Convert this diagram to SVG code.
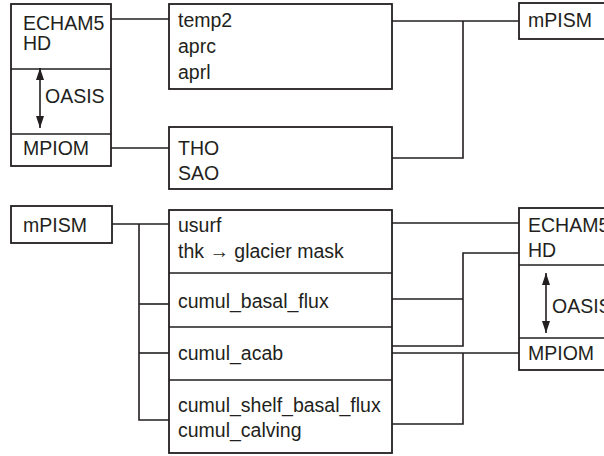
<svg xmlns="http://www.w3.org/2000/svg" width="604" height="456" viewBox="0 0 604 456">
<style>
.box{fill:#fff;stroke:#231f20;stroke-width:1.8}
.ln{fill:none;stroke:#231f20;stroke-width:1.6}
.t{font-family:"Liberation Sans",Arial,sans-serif;font-size:19.5px;fill:#231f20}
</style>
<defs>
<marker id="ah" viewBox="0 0 12 8" refX="12" refY="4" markerWidth="12" markerHeight="8" orient="auto-start-reverse" markerUnits="userSpaceOnUse">
<path d="M0,0 L12,4 L0,8 z" fill="#231f20"/>
</marker>
</defs>
<rect width="604" height="456" fill="#fff"/>
<g id="connectors">
<path class="ln" d="M111,19 H169"/>
<path class="ln" d="M111,148 H169"/>
<path class="ln" d="M392,21 H519"/>
<path class="ln" d="M392,158 H463 V21"/>
<path class="ln" d="M112,224 H169"/>
<path class="ln" d="M139,224 V420 H169"/>
<path class="ln" d="M139,304 H169"/>
<path class="ln" d="M139,353 H169"/>
<path class="ln" d="M392,223 H519"/>
<path class="ln" d="M519,253 H463 V346 H392"/>
<path class="ln" d="M392,299 H463"/>
<path class="ln" d="M519,353 H392"/>
<path class="ln" d="M463,353 V424 H392"/>
</g>
<g id="coupled-top">
<rect class="box" x="11" y="4" width="100" height="162"/>
<path class="ln" d="M11,69 H111 M11,134 H111" stroke-width="1.8"/>
<text class="t" x="23" y="30">ECHAM5</text>
<text class="t" x="23" y="50">HD</text>
<path class="ln" d="M40,68 V128" marker-start="url(#ah)" marker-end="url(#ah)"/>
<text class="t" x="45" y="103">OASIS</text>
<text class="t" x="23" y="155">MPIOM</text>
</g>
<g id="atm-vars">
<rect class="box" x="169" y="4" width="223" height="85"/>
<text class="t" x="178" y="27">temp2</text>
<text class="t" x="178" y="53">aprc</text>
<text class="t" x="178" y="79">aprl</text>
</g>
<g id="ocean-vars">
<rect class="box" x="169" y="127" width="223" height="62"/>
<text class="t" x="178" y="155">THO</text>
<text class="t" x="178" y="180">SAO</text>
</g>
<g id="mpism-top">
<rect class="box" x="519" y="3" width="95" height="36"/>
<text class="t" x="528" y="27">mPISM</text>
</g>
<g id="mpism-bottom">
<rect class="box" x="11" y="206" width="101" height="37"/>
<text class="t" x="23" y="232">mPISM</text>
</g>
<g id="ism-vars">
<rect class="box" x="169" y="210" width="223" height="243"/>
<path class="ln" d="M169,273 H392 M169,327 H392 M169,380 H392" stroke-width="1.8"/>
<text class="t" x="178" y="232">usurf</text>
<text class="t" x="178" y="258">thk → glacier mask</text>
<text class="t" x="178" y="308">cumul_basal_flux</text>
<text class="t" x="178" y="360">cumul_acab</text>
<text class="t" x="178" y="412">cumul_shelf_basal_flux</text>
<text class="t" x="178" y="437">cumul_calving</text>
</g>
<g id="coupled-bottom">
<rect class="box" x="519" y="208" width="95" height="162"/>
<path class="ln" d="M519,265 H604 M519,338 H604" stroke-width="1.8"/>
<text class="t" x="528" y="232">ECHAM5</text>
<text class="t" x="528" y="257">HD</text>
<path class="ln" d="M546,273 V333" marker-start="url(#ah)" marker-end="url(#ah)"/>
<text class="t" x="552" y="313">OASIS</text>
<text class="t" x="528" y="360">MPIOM</text>
</g>
</svg>
